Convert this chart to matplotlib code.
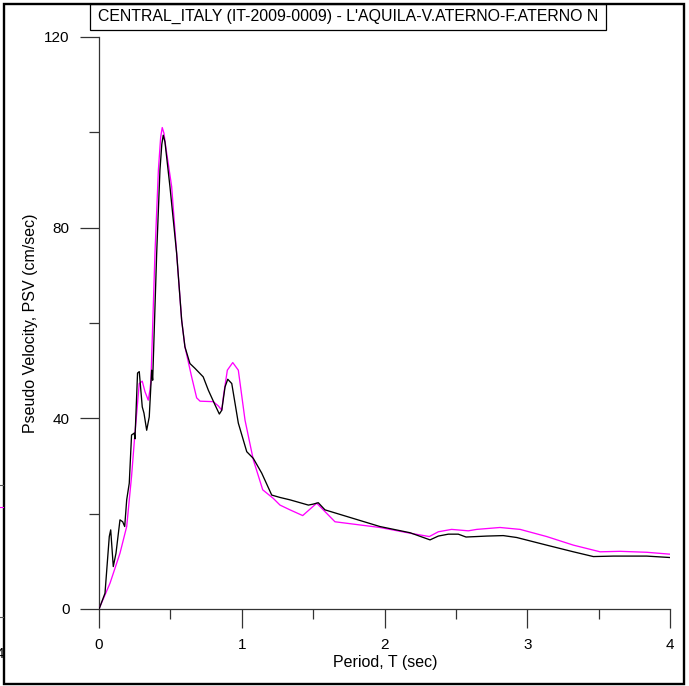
import matplotlib
matplotlib.use("Agg")
import matplotlib.pyplot as plt
from matplotlib.patches import Rectangle
from matplotlib.lines import Line2D
from matplotlib.ticker import MultipleLocator

plt.rcParams['font.family'] = ['Liberation Sans', 'DejaVu Sans']

title = "CENTRAL_ITALY (IT-2009-0009) - L'AQUILA-V.ATERNO-F.ATERNO N"
xlabel = "Period, T (sec)"
ylabel = "Pseudo Velocity, PSV (cm/sec)"

x_ticks = [0, 1, 2, 3, 4]
y_ticks = [0, 40, 80, 120]

T_black = [0.0, 0.007, 0.042, 0.072, 0.082, 0.10, 0.119, 0.147, 0.166, 0.18, 0.194,
           0.212, 0.228, 0.247, 0.252, 0.27, 0.282, 0.303, 0.315, 0.334, 0.352, 0.369,
           0.376, 0.404, 0.427, 0.44, 0.45, 0.462, 0.475, 0.497, 0.544, 0.579, 0.602,
           0.637, 0.672, 0.73, 0.766, 0.813, 0.843, 0.86, 0.883, 0.902, 0.93, 0.976,
           1.035, 1.081, 1.14, 1.21, 1.268, 1.338, 1.467, 1.5, 1.536, 1.583, 1.968,
           2.179, 2.319, 2.377, 2.447, 2.517, 2.571, 2.646, 2.716, 2.832, 2.926, 3.136,
           3.323, 3.463, 3.604, 3.837, 4.0]
PSV_black = [0.0, 0.5, 3.3, 15.2, 16.6, 8.9, 11.7, 18.7, 18.3, 17.3, 22.9,
             26.4, 36.5, 36.9, 35.7, 49.5, 49.8, 42.4, 41.1, 37.5, 40.3, 50.1,
             48.0, 74.6, 92.1, 97.5, 99.4, 98.0, 94.5, 88.6, 74.6, 60.6, 55.0,
             51.5, 50.5, 48.7, 45.9, 42.8, 40.9, 41.7, 46.6, 48.2, 47.3, 39.0,
             33.0, 31.6, 28.5, 23.9, 23.4, 22.9, 21.8, 22.0, 22.3, 20.8, 17.3,
             16.0, 14.5, 15.3, 15.7, 15.7, 15.1, 15.2, 15.3, 15.4, 15.0, 13.4,
             12.0, 11.0, 11.1, 11.1, 10.8]

T_mag = [0.0, 0.007, 0.077, 0.147, 0.194, 0.228, 0.252, 0.282, 0.303, 0.322, 0.345,
         0.357, 0.364, 0.392, 0.416, 0.432, 0.443, 0.455, 0.47, 0.509, 0.544, 0.579,
         0.602, 0.649, 0.684, 0.708, 0.8, 0.836, 0.86, 0.871, 0.899, 0.937, 0.976,
         1.023, 1.081, 1.147, 1.221, 1.268, 1.338, 1.427, 1.525, 1.653, 1.968, 2.179,
         2.314, 2.377, 2.47, 2.587, 2.646, 2.809, 2.95, 3.136, 3.323, 3.51, 3.65,
         3.837, 4.0]
PSV_mag = [0.0, 0.5, 5.4, 11.7, 17.3, 27.8, 36.9, 47.3, 47.8, 45.6, 43.8,
           46.0, 48.0, 74.6, 92.1, 99.0, 101.0, 99.8, 96.5, 88.6, 74.6, 60.6,
           55.0, 48.7, 44.3, 43.6, 43.5, 42.6, 41.7, 44.5, 50.1, 51.7, 50.1,
           39.6, 31.3, 25.0, 23.2, 21.8, 20.8, 19.6, 22.2, 18.3, 17.1, 15.9,
           15.2, 16.2, 16.7, 16.4, 16.7, 17.1, 16.7, 15.2, 13.4, 12.0, 12.1,
           11.9, 11.5]

W, H = 689, 686
fig = plt.figure(figsize=(W / 100, H / 100), dpi=100)
ax = fig.add_axes([99 / W, 1 - 609 / H, (670 - 99) / W, (609 - 37) / H])

ax.plot(T_mag, PSV_mag, color='#FF00FF', lw=0.95, zorder=3)
ax.plot(T_black, PSV_black, color='black', lw=0.95, zorder=4)

ax.set_xlim(0, 4)
ax.set_ylim(0, 120)
for s in ['top', 'right']:
    ax.spines[s].set_visible(False)
for s in ['left', 'bottom']:
    ax.spines[s].set_color('#333333')
    ax.spines[s].set_linewidth(0.9)

ax.set_xticks(x_ticks)
ax.set_yticks(y_ticks)
ax.xaxis.set_minor_locator(MultipleLocator(0.5))
ax.yaxis.set_minor_locator(MultipleLocator(20))
ax.tick_params(axis='both', which='major', direction='out', length=14, width=0.9,
               color='#333333', labelsize=11, pad=7)
ax.tick_params(axis='both', which='minor', direction='out', length=7, width=0.9,
               color='#333333')

ax.set_xlabel(xlabel, fontsize=11.5)
ax.set_ylabel(ylabel, fontsize=11.5)
ax.xaxis.set_label_coords((385 - 99) / (670 - 99), -(655 - 609) / (609 - 37))
ax.yaxis.set_label_coords(-(99 - 38) / (670 - 99), (609 - 323) / (609 - 37))

# title box
fig.patches.append(Rectangle((90 / W, 1 - 30 / H), (606 - 90) / W, 26 / H,
                             transform=fig.transFigure, fill=False, ec='black', lw=0.9))
fig.text(348 / W, 1 - 16.5 / H, title, ha='center', va='center', fontsize=11.4)

# outer frame
fig.patches.append(Rectangle((3.5 / W, 1 - 684 / H), (683.5 - 3.5) / W, (684 - 4) / H,
                             transform=fig.transFigure, fill=False, ec='black', lw=1.7))

# remnants of neighbouring panel at the left edge
fig.lines.append(Line2D([0, 3 / W], [1 - 485 / H] * 2, transform=fig.transFigure,
                        color='#555555', lw=0.8))
fig.lines.append(Line2D([0, 3 / W], [1 - 507 / H] * 2, transform=fig.transFigure,
                        color='#FF00FF', lw=0.8))
fig.lines.append(Line2D([0, 3 / W], [1 - 617 / H] * 2, transform=fig.transFigure,
                        color='#555555', lw=0.8))
fig.text(0, 1 - 654 / H, "4", ha='center', va='center', fontsize=11)

fig.savefig("out.png", dpi=100)
